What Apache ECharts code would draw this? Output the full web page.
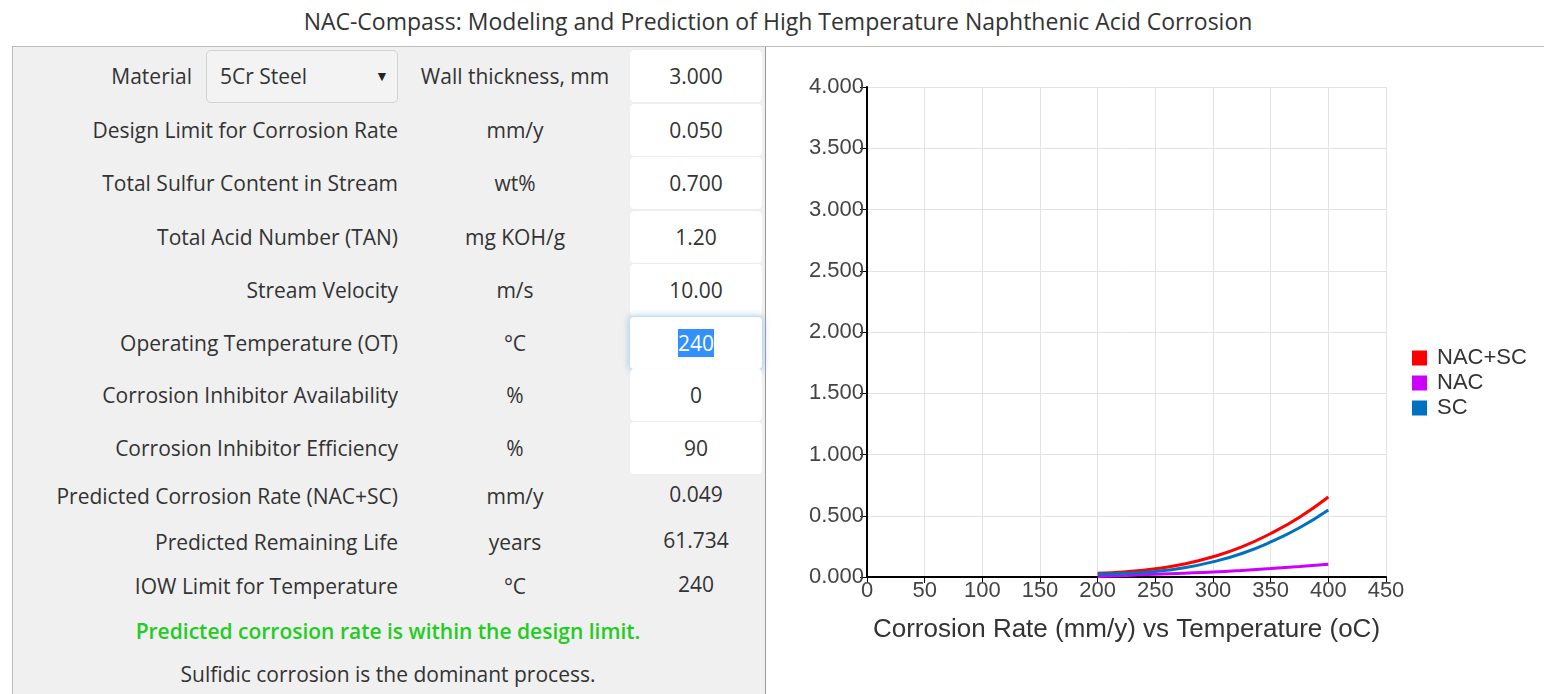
<!DOCTYPE html>
<html>
<head>
<meta charset="utf-8">
<script src="https://cdn.jsdelivr.net/npm/echarts@6/dist/echarts.min.js"></script>
<style>
  html, body { margin: 0; padding: 0; width: 1544px; height: 694px; overflow: hidden; background: #fff; }
  body { font-family: "Open Sans", "Noto Sans", sans-serif; color: #333; position: relative; }
  .title { position: absolute; left: 0; width: 1556px; top: 5px; text-align: center; font-size: 23px; color: #333; }
  .topline { position: absolute; left: 12px; right: 0; top: 46px; height: 1px; background: #bbb; }
  .panel { position: absolute; left: 12px; top: 47px; width: 752px; height: 660px; background: #f0f0f0;
           border-left: 1px solid #bbb; border-right: 1px solid #999; }
  .lab { position: absolute; font-size: 21px; white-space: nowrap; text-align: right; line-height: 28px; }
  .unit { position: absolute; width: 220px; left: 405px; text-align: center; font-size: 21px; white-space: nowrap; line-height: 28px; }
  .box { position: absolute; left: 630px; width: 132px; height: 52px; background: #fff; border-radius: 4px; }
  .val { position: absolute; width: 132px; left: 630px; text-align: center; font-size: 21px; line-height: 28px; }
  .sel { position: absolute; left: 206px; top: 50px; width: 190px; height: 51px; border: 1px solid #d3d3d3;
         border-radius: 5px; background: #f3f3f3; }
  .msg { position: absolute; left: 12px; width: 752px; text-align: center; font-size: 21px; line-height: 28px; }
  #chart { position: absolute; left: 766px; top: 47px; width: 778px; height: 647px; }
</style>
</head>
<body>
<div class="title">NAC-Compass: Modeling and Prediction of High Temperature Naphthenic Acid Corrosion</div>
<div class="topline"></div>
<div class="panel"></div>
<div id="form"></div>
<div id="chart"></div>
<script>
// form rows
var rowLabels = ['Material', 'Design Limit for Corrosion Rate', 'Total Sulfur Content in Stream', 'Total Acid Number (TAN)',
  'Stream Velocity', 'Operating Temperature (OT)', 'Corrosion Inhibitor Availability', 'Corrosion Inhibitor Efficiency',
  'Predicted Corrosion Rate (NAC+SC)', 'Predicted Remaining Life', 'IOW Limit for Temperature'];
var rowUnits = ['Wall thickness, mm', 'mm/y', 'wt%', 'mg KOH/g', 'm/s', '°C', '%', '%', 'mm/y', 'years', '°C'];
var rowValues = ['3.000', '0.050', '0.700', '1.20', '10.00', '240', '0', '90', '0.049', '61.734', '240'];
var rowY = [76, 130, 183, 237, 290, 343, 395, 448, 496, 542, 586];

// chart data
var temps = [200, 225, 250, 275, 300, 325, 350, 375, 400];
var nacSc = [0.030, 0.043, 0.067, 0.106, 0.165, 0.246, 0.355, 0.488, 0.653];
var nac = [0.005, 0.013, 0.022, 0.031, 0.041, 0.054, 0.069, 0.086, 0.104];
var sc = [0.025, 0.030, 0.045, 0.075, 0.124, 0.192, 0.286, 0.402, 0.547];

var html = '';
rowLabels.forEach(function (t, i) {
  var y = rowY[i];
  if (i === 0) {
    html += '<div class="sel"></div>';
    html += '<div style="position:absolute;left:220px;top:' + (y - 14) + 'px;font-size:21px;line-height:28px">5Cr Steel</div>';
    html += '<div style="position:absolute;left:375px;top:' + (y - 10) + 'px;font-size:14px;color:#222">&#9660;</div>';
    html += '<div class="lab" style="right:' + (1544 - 192) + 'px;top:' + (y - 14) + 'px">' + t + '</div>';
  } else {
    html += '<div class="lab" style="right:' + (1544 - 398) + 'px;top:' + (y - 14) + 'px">' + t + '</div>';
  }
  html += '<div class="unit" style="top:' + (y - 14) + 'px">' + rowUnits[i] + '</div>';
  if (i < 8) {
    var sh = i === 5 ? 'box-shadow:0 0 6px 2px rgba(102,175,233,0.45);' : 'box-shadow:0 0 1px rgba(0,0,0,0.08);';
    html += '<div class="box" style="top:' + (y - 26) + 'px;' + sh + '"></div>';
  }
  var v = rowValues[i];
  if (i === 5) v = '<span style="background:#3390ff;color:#fff">' + v + '</span>';
  html += '<div class="val" style="top:' + (y - 14 - (i >= 8 ? 2 : 0)) + 'px">' + v + '</div>';
});
html += '<div class="msg" style="top:617px;color:#22cc22;font-weight:600">Predicted corrosion rate is within the design limit.</div>';
html += '<div class="msg" style="top:660px">Sulfidic corrosion is the dominant process.</div>';
document.getElementById('form').innerHTML = html;

function pairs(arr) {
  return temps.map(function (t, i) { return [t, arr[i]]; });
}

var myChart = echarts.init(document.getElementById('chart'));
var option = {
  animation: false,
  color: ['#ff0000', '#cc00ff', '#0070c0'],
  textStyle: { fontFamily: 'Liberation Sans, Arial, sans-serif' },
  grid: { left: 101, right: 158, top: 40, bottom: 117 },
  legend: {
    orient: 'vertical',
    left: 641,
    top: 295,
    icon: 'rect',
    itemWidth: 15,
    itemHeight: 15,
    itemGap: 3,
    textStyle: { fontSize: 22, color: '#333', padding: [0, 0, 0, 5] },
    data: ['NAC+SC', 'NAC', 'SC']
  },
  xAxis: {
    type: 'value',
    min: 0,
    max: 450,
    interval: 50,
    name: 'Corrosion Rate (mm/y) vs Temperature (oC)',
    nameLocation: 'middle',
    nameGap: 40,
    nameTextStyle: { fontSize: 26, color: '#333' },
    axisLine: { lineStyle: { color: '#000', width: 2 } },
    axisTick: { length: 6, lineStyle: { color: '#000' } },
    axisLabel: { fontSize: 22, color: '#444', margin: 3 },
    splitLine: { show: true, lineStyle: { color: '#e3e3e3', width: 1 } }
  },
  yAxis: {
    type: 'value',
    min: 0,
    max: 4,
    interval: 0.5,
    axisLine: { show: true, lineStyle: { color: '#000', width: 2 } },
    axisTick: { show: true, length: 7, lineStyle: { color: '#000' } },
    axisLabel: { fontSize: 22, color: '#444', margin: 3, formatter: function (v) { return v.toFixed(3); } },
    splitLine: { show: true, lineStyle: { color: '#e3e3e3', width: 1 } }
  },
  series: [
    { name: 'NAC+SC', type: 'line', smooth: true, showSymbol: false, lineStyle: { width: 3 }, data: pairs(nacSc) },
    { name: 'NAC', type: 'line', smooth: true, showSymbol: false, lineStyle: { width: 3 }, data: pairs(nac) },
    { name: 'SC', type: 'line', smooth: true, showSymbol: false, lineStyle: { width: 3 }, data: pairs(sc) }
  ]
};
myChart.setOption(option);
</script>
</body>
</html>
